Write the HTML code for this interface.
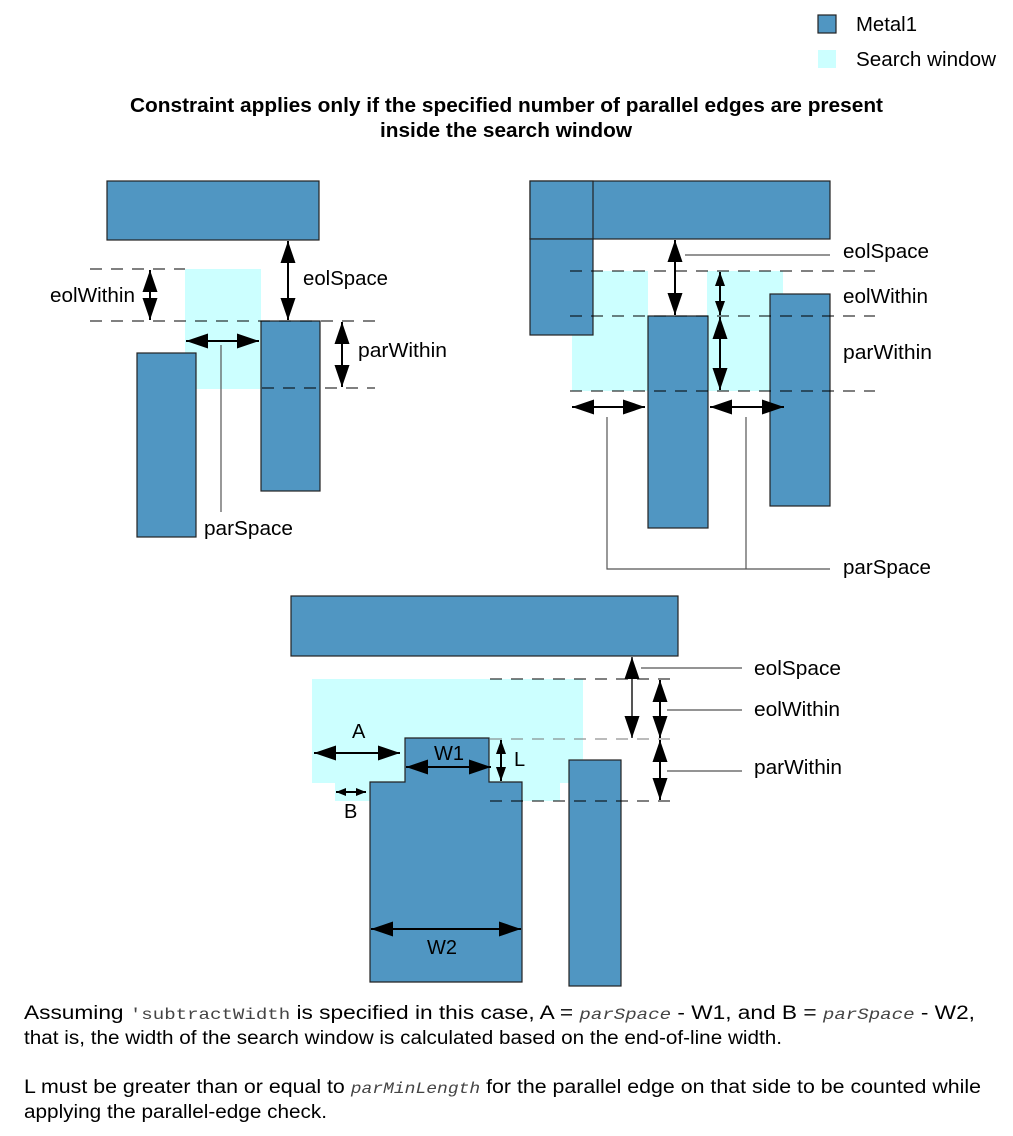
<!DOCTYPE html>
<html><head><meta charset="utf-8"><style>
html,body{margin:0;padding:0;background:#fff;width:1013px;height:1136px;overflow:hidden}
svg{display:block}
text{font-family:"Liberation Sans",sans-serif;font-size:20px;fill:#000}
.p{font-size:19px}
.m{font-family:"Liberation Mono",monospace;font-size:16px;fill:#444}
.mi{font-family:"Liberation Mono",monospace;font-style:italic;font-size:16px;fill:#444}
</style></head><body>
<svg width="1013" height="1136" viewBox="0 0 1013 1136" xmlns="http://www.w3.org/2000/svg">
<defs>
<marker id="a" viewBox="0 0 22 15" refX="22" refY="7.5" markerWidth="22" markerHeight="15" markerUnits="userSpaceOnUse" orient="auto-start-reverse"><path d="M0,0 L22,7.5 L0,15 Z" fill="#000"/></marker>
<marker id="m" viewBox="0 0 14 10" refX="14" refY="5" markerWidth="14" markerHeight="10" markerUnits="userSpaceOnUse" orient="auto-start-reverse"><path d="M0,0 L14,5 L0,10 Z" fill="#000"/></marker>
<marker id="s" viewBox="0 0 10 8" refX="10" refY="4" markerWidth="10" markerHeight="8" markerUnits="userSpaceOnUse" orient="auto-start-reverse"><path d="M0,0 L10,4 L0,8 Z" fill="#000"/></marker>
</defs>
<g stroke="#222" stroke-width="1.2" fill="#5096c2">
<rect x="818" y="15" width="18" height="18"/>
</g>
<rect x="818" y="50" width="18" height="18" fill="#ccffff"/>
<text x="856" y="31" textLength="61" lengthAdjust="spacingAndGlyphs">Metal1</text>
<text x="856" y="66" textLength="140" lengthAdjust="spacingAndGlyphs">Search window</text>
<text x="130" y="112" font-weight="bold" textLength="753" lengthAdjust="spacingAndGlyphs">Constraint applies only if the specified number of parallel edges are present</text>
<text x="380" y="137" font-weight="bold" textLength="252" lengthAdjust="spacingAndGlyphs">inside the search window</text>

<g fill="#ccffff">
<rect x="185" y="269" width="76" height="120"/>
<rect x="572" y="271" width="76" height="120"/>
<rect x="707" y="271" width="76" height="120"/>
<rect x="312" y="679" width="271" height="104"/>
<rect x="335" y="783" width="225" height="18"/>
</g>

<g stroke="#222" stroke-width="1.2" fill="#5096c2">
<rect x="107" y="181" width="212" height="59"/>
<rect x="137" y="353" width="59" height="184"/>
<rect x="261" y="321" width="59" height="170"/>
<rect x="530" y="181" width="300" height="58"/>
<rect x="530" y="181" width="63" height="58"/>
<rect x="530" y="239" width="63" height="96"/>
<rect x="648" y="316" width="60" height="212"/>
<rect x="770" y="294" width="60" height="212"/>
<rect x="291" y="596" width="387" height="60"/>
<polygon points="405,738 489,738 489,782 522,782 522,982 370,982 370,782 405,782"/>
<rect x="569" y="760" width="52" height="226"/>
</g>

<g stroke="#000" stroke-width="1" stroke-dasharray="12,9" fill="none">
<path d="M90,269H185 M90,321H375 M262,388H375"/>
<path d="M570,271H875 M570,316H875 M570,391H875"/>
<path d="M490,679H677 M490,801H677"/>
<path d="M490,739H677" stroke="#777"/>
</g>

<g stroke="#555" stroke-width="1.2" fill="none">
<path d="M221,345V512"/>
<path d="M685,255H830"/>
<path d="M607,417V569H830 M746,417V569"/>
<path d="M641,668H742 M667,710H742 M667,771H742"/>
</g>

<g stroke="#000" stroke-width="2" fill="none">
<line x1="150" y1="270" x2="150" y2="320" marker-start="url(#a)" marker-end="url(#a)"/>
<line x1="288" y1="241" x2="288" y2="320" marker-start="url(#a)" marker-end="url(#a)"/>
<line x1="342" y1="322" x2="342" y2="387" marker-start="url(#a)" marker-end="url(#a)"/>
<line x1="186" y1="341" x2="259" y2="341" marker-start="url(#a)" marker-end="url(#a)"/>
<line x1="675" y1="240" x2="675" y2="315" marker-start="url(#a)" marker-end="url(#a)"/>
<line x1="720" y1="272" x2="720" y2="315" marker-start="url(#m)" marker-end="url(#m)"/>
<line x1="720" y1="317" x2="720" y2="390" marker-start="url(#a)" marker-end="url(#a)"/>
<line x1="572" y1="407" x2="645" y2="407" marker-start="url(#a)" marker-end="url(#a)"/>
<line x1="710" y1="407" x2="784" y2="407" marker-start="url(#a)" marker-end="url(#a)"/>
<line x1="632" y1="657" x2="632" y2="738" marker-start="url(#a)" marker-end="url(#a)" stroke="#555"/>
<line x1="660" y1="680" x2="660" y2="738" marker-start="url(#a)" marker-end="url(#a)"/>
<line x1="660" y1="740" x2="660" y2="800" marker-start="url(#a)" marker-end="url(#a)"/>
<line x1="314" y1="753" x2="400" y2="753" marker-start="url(#a)" marker-end="url(#a)"/>
<line x1="406" y1="767" x2="491" y2="767" marker-start="url(#a)" marker-end="url(#a)"/>
<line x1="501" y1="740" x2="501" y2="781" marker-start="url(#m)" marker-end="url(#m)"/>
<line x1="336" y1="792" x2="366" y2="792" marker-start="url(#s)" marker-end="url(#s)"/>
<line x1="371" y1="929" x2="521" y2="929" marker-start="url(#a)" marker-end="url(#a)"/>
</g>

<text x="50" y="302" textLength="85" lengthAdjust="spacingAndGlyphs">eolWithin</text>
<text x="303" y="285" textLength="85" lengthAdjust="spacingAndGlyphs">eolSpace</text>
<text x="358" y="357" textLength="89" lengthAdjust="spacingAndGlyphs">parWithin</text>
<text x="204" y="535" textLength="89" lengthAdjust="spacingAndGlyphs">parSpace</text>
<text x="843" y="258" textLength="86" lengthAdjust="spacingAndGlyphs">eolSpace</text>
<text x="843" y="303" textLength="85" lengthAdjust="spacingAndGlyphs">eolWithin</text>
<text x="843" y="359" textLength="89" lengthAdjust="spacingAndGlyphs">parWithin</text>
<text x="843" y="574" textLength="88" lengthAdjust="spacingAndGlyphs">parSpace</text>
<text x="754" y="675" textLength="87" lengthAdjust="spacingAndGlyphs">eolSpace</text>
<text x="754" y="716" textLength="86" lengthAdjust="spacingAndGlyphs">eolWithin</text>
<text x="754" y="774" textLength="88" lengthAdjust="spacingAndGlyphs">parWithin</text>
<text x="352" y="738">A</text>
<text x="434" y="760">W1</text>
<text x="514" y="766">L</text>
<text x="344" y="818">B</text>
<text x="427" y="954">W2</text>

<text class="p" x="24" y="1019" textLength="951" lengthAdjust="spacingAndGlyphs">Assuming <tspan class="m">'subtractWidth</tspan> is specified in this case, A = <tspan class="mi">parSpace</tspan> - W1, and B = <tspan class="mi">parSpace</tspan> - W2,</text>
<text class="p" x="24" y="1044" textLength="758" lengthAdjust="spacingAndGlyphs">that is, the width of the search window is calculated based on the end-of-line width.</text>
<text class="p" x="24" y="1093" textLength="957" lengthAdjust="spacingAndGlyphs">L must be greater than or equal to <tspan class="mi">parMinLength</tspan> for the parallel edge on that side to be counted while</text>
<text class="p" x="24" y="1118" textLength="303" lengthAdjust="spacingAndGlyphs">applying the parallel-edge check.</text>
</svg>
</body></html>
